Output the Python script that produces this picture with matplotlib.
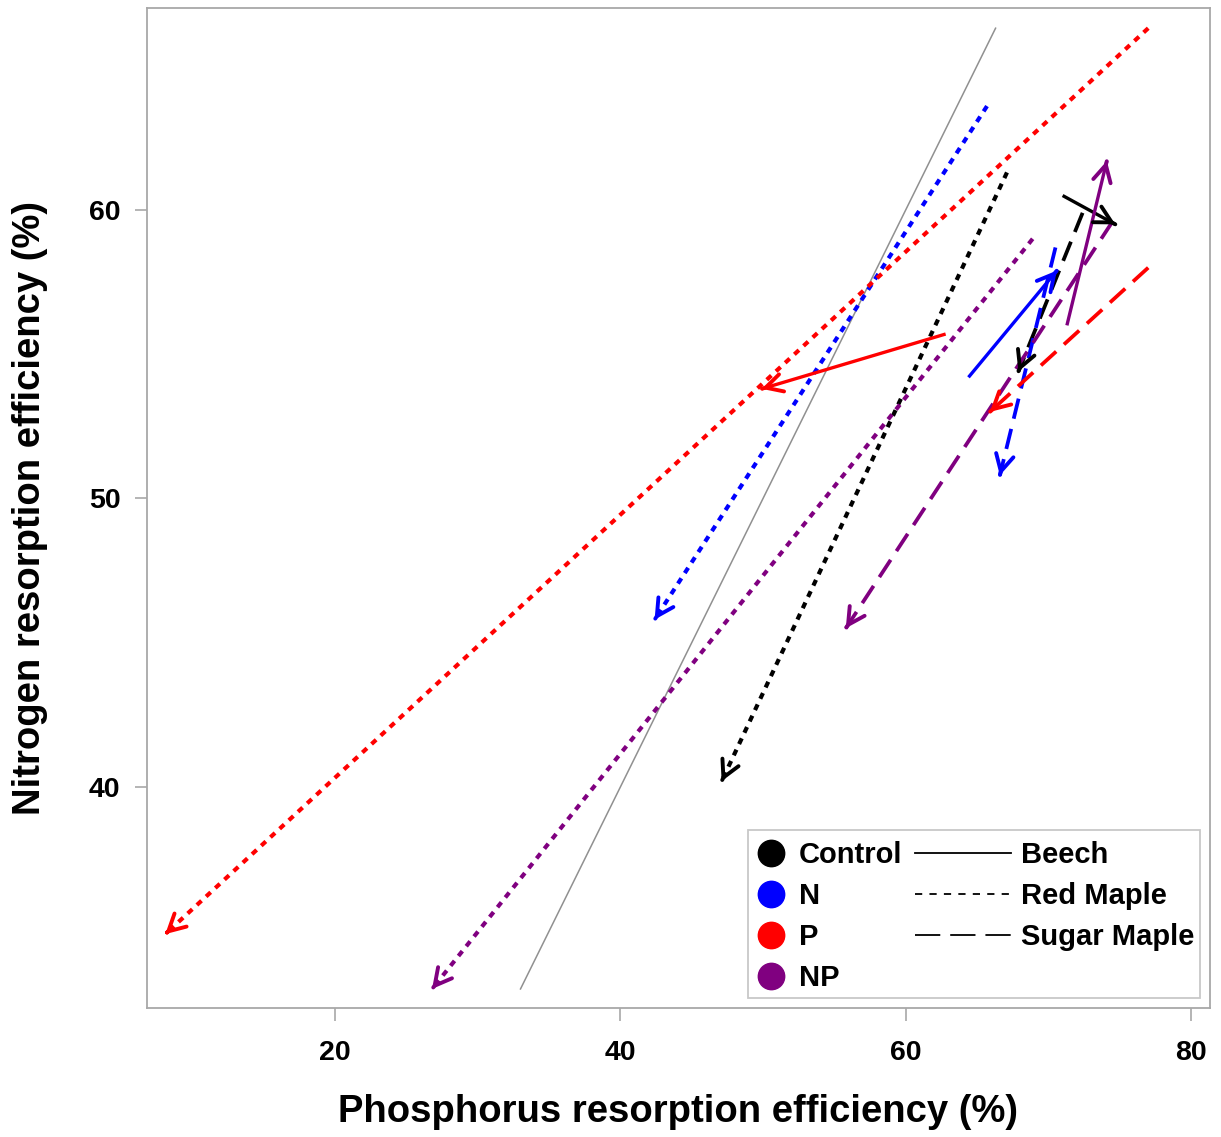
import matplotlib
matplotlib.use("Agg")
import matplotlib.pyplot as plt
from matplotlib.lines import Line2D
from matplotlib.patches import Rectangle

plt.rcParams['font.family'] = ['Liberation Sans', 'DejaVu Sans']

# ---- data (start -> end of each arrow) ----
treatments = ["Control", "N", "P", "NP"]
treat_colors = {"Control": "#000000", "N": "#0000FF", "P": "#FF0000", "NP": "#800080"}
species = ["Beech", "Red Maple", "Sugar Maple"]

# Beech (solid)
beech_x0 = [71.0, 64.4, 62.8, 71.3]
beech_y0 = [60.5, 54.2, 55.7, 56.0]
beech_x1 = [74.7, 70.6, 49.9, 74.1]
beech_y1 = [59.5, 57.9, 53.8, 61.7]

# Red Maple (dotted)
redmaple_x0 = [67.1, 65.7, 77.0, 68.9]
redmaple_y0 = [61.3, 63.6, 66.3, 59.0]
redmaple_x1 = [47.1, 42.4, 8.1, 26.8]
redmaple_y1 = [40.2, 45.8, 34.9, 33.0]

# Sugar Maple (dashed)
sugar_x0 = [72.4, 70.5, 77.0, 74.5]
sugar_y0 = [59.9, 58.7, 58.0, 59.6]
sugar_x1 = [67.9, 66.6, 65.9, 55.8]
sugar_y1 = [54.4, 50.8, 53.0, 45.5]

# 1:1 reference line
ref_x = [33.0, 66.3]
ref_y = [33.0, 66.3]

x_ticks = [20, 40, 60, 80]
y_ticks = [40, 50, 60]

# ---- figure ----
fig = plt.figure(figsize=(12.21, 11.37), dpi=100)
ax = fig.add_axes([147/1221, 1 - 1008/1137, 1063/1221, 1000/1137])
ax.set_xlim(6.82, 81.33)
ax.set_ylim(32.34, 67.0)

ax.plot(ref_x, ref_y, color="#909090", lw=1.1, zorder=1)

styles = {
    "Beech": dict(ls="-", lw=2.4),
    "Red Maple": dict(ls=(0, (1.5, 1.5)), lw=3.0),
    "Sugar Maple": dict(ls=(0, (5.5, 2.8)), lw=2.7),
}
sets = {
    "Beech": (beech_x0, beech_y0, beech_x1, beech_y1),
    "Red Maple": (redmaple_x0, redmaple_y0, redmaple_x1, redmaple_y1),
    "Sugar Maple": (sugar_x0, sugar_y0, sugar_x1, sugar_y1),
}

for sp in ["Red Maple", "Sugar Maple", "Beech"]:
    x0s, y0s, x1s, y1s = sets[sp]
    st = styles[sp]
    for t, x0, y0, x1, y1 in zip(treatments, x0s, y0s, x1s, y1s):
        c = treat_colors[t]
        ax.plot([x0, x1], [y0, y1], color=c, linestyle=st["ls"], lw=st["lw"],
                solid_capstyle="butt", dash_capstyle="butt", zorder=2)
        xb = x1 - 0.002 * (x1 - x0)
        yb = y1 - 0.002 * (y1 - y0)
        ax.annotate("", xy=(x1, y1), xytext=(xb, yb),
                    arrowprops=dict(arrowstyle="->,head_length=0.6,head_width=0.32",
                                    color=c, lw=2.8, shrinkA=0, shrinkB=0,
                                    mutation_scale=20), zorder=3)

# axes styling
for s in ax.spines.values():
    s.set_color("#A8A8A8")
    s.set_linewidth(1.3)
ax.set_xticks(x_ticks)
ax.set_yticks(y_ticks)
ax.tick_params(axis="both", direction="out", length=9, width=1.2, color="#A8A8A8",
               labelsize=20.5, labelcolor="black")
ax.tick_params(axis="x", pad=14)
ax.tick_params(axis="y", pad=10)
for lab in ax.get_xticklabels() + ax.get_yticklabels():
    lab.set_fontweight("bold")

ax.set_xlabel("Phosphorus resorption efficiency (%)", fontsize=27.5, fontweight="bold")
ax.set_ylabel("Nitrogen resorption efficiency (%)", fontsize=27.5, fontweight="bold")
ax.xaxis.set_label_coords(0.5, -0.104)
ax.xaxis.label.set_va("center")
ax.yaxis.set_label_coords(-0.110, 0.5)
ax.yaxis.label.set_va("center")

# legend frame
ax.add_patch(Rectangle(((748 - 147) / 1063, (1008 - 998) / 1000),
                       (1200 - 748) / 1063, (998 - 830) / 1000,
                       transform=ax.transAxes, facecolor="white",
                       edgecolor="#C8C8C8", lw=1.3, zorder=5))

treat_handles = [Line2D([], [], ls="", marker="o", markersize=19,
                        markerfacecolor=treat_colors[t], markeredgecolor=treat_colors[t])
                 for t in treatments]
leg1 = ax.legend(treat_handles, treatments, loc="upper left",
                 bbox_to_anchor=((755 - 147) / 1063, (1008 - 841) / 1000),
                 borderaxespad=0, borderpad=0, frameon=False,
                 handlelength=1.1, handletextpad=0.4, labelspacing=0.45,
                 prop=dict(size=21, weight="bold"))
leg1.set_zorder(6)
ax.add_artist(leg1)

sp_handles = [Line2D([], [], color="black", lw=1.3, ls="-"),
              Line2D([], [], color="black", lw=1.3, ls=(0, (4, 4))),
              Line2D([], [], color="black", lw=1.3, ls=(0, (14, 5.5)))]
leg2 = ax.legend(sp_handles, species, loc="upper left",
                 bbox_to_anchor=((915 - 147) / 1063, (1008 - 841) / 1000),
                 borderaxespad=0, borderpad=0, frameon=False,
                 handlelength=3.3, handletextpad=0.35, labelspacing=0.45,
                 prop=dict(size=21, weight="bold"))
leg2.set_zorder(6)

fig.savefig("out.png", dpi=100)
